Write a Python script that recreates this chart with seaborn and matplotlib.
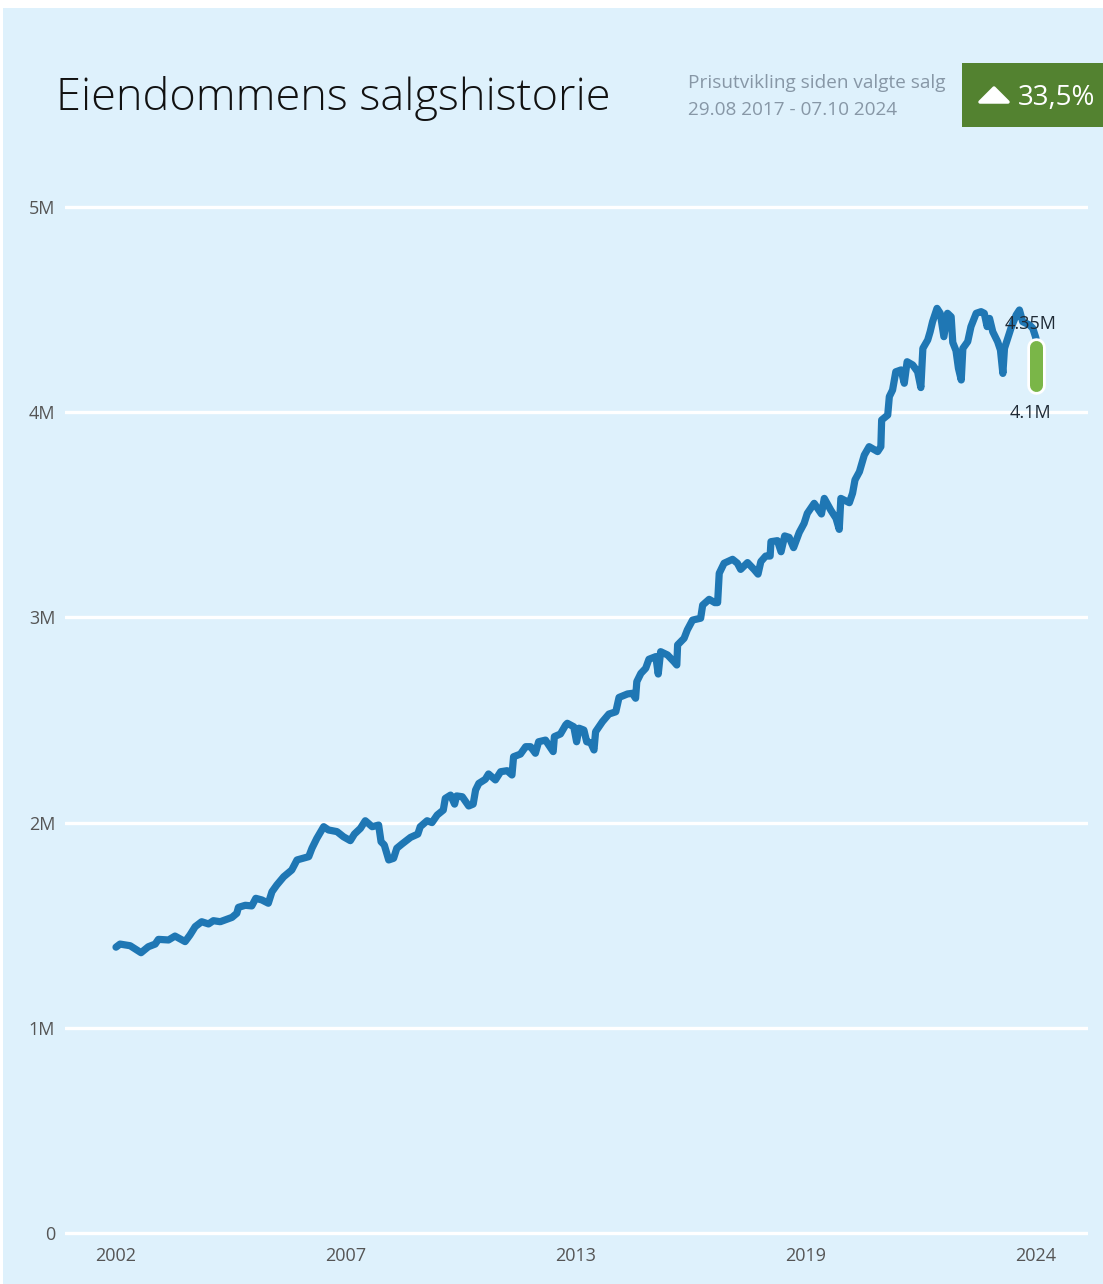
import numpy as np
import pandas as pd
import matplotlib
matplotlib.use("Agg")
import matplotlib.pyplot as plt
import matplotlib.patheffects as pe
from matplotlib.patches import Rectangle, Polygon
import seaborn as sns

# Price index for the property (decimal year, price in millions NOK)
years = [
    2002.00, 2002.10, 2002.35, 2002.62, 2002.80, 2002.97, 2003.05, 2003.30, 2003.46, 2003.71,
    2003.83, 2003.96, 2004.12, 2004.29, 2004.41, 2004.58, 2004.87, 2004.99, 2005.03, 2005.20,
    2005.36, 2005.46, 2005.61, 2005.77, 2005.86, 2005.98, 2006.15, 2006.35, 2006.48, 2006.77,
    2006.85, 2006.97, 2007.14, 2007.26, 2007.47, 2007.63, 2007.80, 2007.90, 2008.05, 2008.17,
    2008.34, 2008.50, 2008.56, 2008.64, 2008.75, 2008.87, 2008.95, 2009.08, 2009.29, 2009.47,
    2009.53, 2009.70, 2009.82, 2009.95, 2010.10, 2010.15, 2010.28, 2010.38, 2010.43, 2010.57,
    2010.73, 2010.84, 2010.90, 2010.98, 2011.14, 2011.22, 2011.39, 2011.52, 2011.68, 2011.80,
    2011.84, 2012.01, 2012.14, 2012.26, 2012.38, 2012.46, 2012.63, 2012.71, 2012.82, 2012.85,
    2013.00, 2013.13, 2013.17, 2013.33, 2013.40, 2013.46, 2013.58, 2013.65, 2013.75, 2013.83,
    2013.87, 2014.04, 2014.20, 2014.37, 2014.45, 2014.66, 2014.78, 2014.86, 2014.89, 2014.99,
    2015.11, 2015.19, 2015.36, 2015.42, 2015.48, 2015.65, 2015.81, 2015.88, 2015.90, 2016.06,
    2016.14, 2016.27, 2016.47, 2016.52, 2016.68, 2016.82, 2016.89, 2016.93, 2017.05, 2017.26,
    2017.38, 2017.46, 2017.63, 2017.79, 2017.89, 2017.96, 2018.08, 2018.19, 2018.21, 2018.37,
    2018.46, 2018.55, 2018.66, 2018.77, 2018.91, 2019.03, 2019.11, 2019.28, 2019.46, 2019.53,
    2019.69, 2019.82, 2019.90, 2019.94, 2020.15, 2020.23, 2020.29, 2020.40, 2020.52, 2020.64,
    2020.85, 2020.93, 2020.95, 2021.10, 2021.14, 2021.22, 2021.30, 2021.43, 2021.51, 2021.58,
    2021.72, 2021.84, 2021.92, 2021.97, 2022.09, 2022.15, 2022.21, 2022.32, 2022.40, 2022.49,
    2022.58, 2022.67, 2022.71, 2022.79, 2022.85, 2022.92, 2022.96, 2023.08, 2023.16, 2023.29,
    2023.41, 2023.49, 2023.56, 2023.62, 2023.70, 2023.82, 2023.89, 2023.95, 2023.99, 2024.07,
    2024.15, 2024.28, 2024.36, 2024.44, 2024.61, 2024.69, 2024.77,
]
prices = [
    1.393, 1.408, 1.400, 1.366, 1.395, 1.408, 1.431, 1.428, 1.447, 1.420,
    1.452, 1.493, 1.517, 1.506, 1.522, 1.517, 1.538, 1.558, 1.587, 1.597,
    1.594, 1.631, 1.623, 1.607, 1.663, 1.696, 1.736, 1.769, 1.818, 1.834,
    1.875, 1.923, 1.980, 1.964, 1.956, 1.931, 1.912, 1.944, 1.972, 2.009,
    1.980, 1.988, 1.907, 1.891, 1.818, 1.826, 1.875, 1.896, 1.928, 1.944,
    1.980, 2.009, 2.000, 2.037, 2.061, 2.118, 2.134, 2.090, 2.130, 2.126,
    2.081, 2.090, 2.159, 2.191, 2.211, 2.237, 2.208, 2.248, 2.253, 2.232,
    2.321, 2.334, 2.370, 2.370, 2.338, 2.394, 2.402, 2.378, 2.346, 2.419,
    2.432, 2.476, 2.484, 2.467, 2.394, 2.460, 2.451, 2.394, 2.389, 2.354,
    2.443, 2.492, 2.529, 2.540, 2.610, 2.627, 2.630, 2.606, 2.687, 2.727,
    2.752, 2.796, 2.809, 2.724, 2.833, 2.817, 2.784, 2.768, 2.866, 2.898,
    2.939, 2.987, 2.996, 3.060, 3.088, 3.072, 3.072, 3.215, 3.264, 3.283,
    3.264, 3.234, 3.267, 3.234, 3.211, 3.272, 3.299, 3.299, 3.369, 3.374,
    3.320, 3.397, 3.390, 3.340, 3.414, 3.458, 3.507, 3.556, 3.504, 3.580,
    3.523, 3.483, 3.429, 3.580, 3.559, 3.605, 3.670, 3.710, 3.791, 3.832,
    3.808, 3.832, 3.962, 3.986, 4.076, 4.108, 4.197, 4.206, 4.141, 4.246,
    4.230, 4.197, 4.120, 4.311, 4.352, 4.392, 4.441, 4.506, 4.482, 4.368,
    4.482, 4.465, 4.340, 4.300, 4.214, 4.157, 4.311, 4.344, 4.417, 4.482,
    4.490, 4.482, 4.417, 4.457, 4.392, 4.344, 4.303, 4.189, 4.311, 4.360,
    4.409, 4.474, 4.498, 4.441, 4.425, 4.409, 4.360,
]

# Estimated value range today (millions)
estimate_low = 4.1
estimate_high = 4.35
estimate_labels = ["4.35M", "4.1M"]

x_tick_labels = ["2002", "2007", "2013", "2019", "2024"]
y_ticks = [0, 1, 2, 3, 4, 5]

title = "Eiendommens salgshistorie"
subtitle_lines = ["Prisutvikling siden valgte salg", "29.08 2017 - 07.10 2024"]
change_text = "33,5%"

W, H, DPI = 1103, 1284, 100
PANEL = "#def1fc"
LINE = "#1f77b4"

sns.set_theme(style="white")
plt.rcParams["font.family"] = ["Open Sans", "DejaVu Sans"]

fig = plt.figure(figsize=(W / DPI, H / DPI), dpi=DPI, facecolor="white")

# light blue card behind everything
fig.patches.append(Rectangle((3 / W, 0), 1 - 3 / W, 1 - 8 / H, transform=fig.transFigure,
                             facecolor=PANEL, edgecolor="none", zorder=-5))

# plotting area
ax_left, ax_right = 65, 1088
ax_top, ax_bottom = 190, 1240
ax = fig.add_axes([ax_left / W, 1 - ax_bottom / H, (ax_right - ax_left) / W,
                   (ax_bottom - ax_top) / H])
ax.set_zorder(1)
ax.set_facecolor("none")

px_per_m = (1233 - 207) / 5.0
ax.set_ylim(-(ax_bottom - 1233) / px_per_m, 5 + (207 - ax_top) / px_per_m)
px_per_year = 230 / ((years[-1] - years[0]) / 4)
ax.set_xlim(years[0] - (116 - ax_left) / px_per_year, years[0] + (ax_right - 116) / px_per_year)

df = pd.DataFrame({"year": years, "price": prices})
sns.lineplot(data=df, x="year", y="price", ax=ax, color=LINE, linewidth=5.2,
             estimator=None, sort=False, zorder=3,
             solid_capstyle="round", solid_joinstyle="round")

# grid
for v in y_ticks:
    ax.axhline(v, color="white", linewidth=2.4, zorder=1)

ax.set_yticks(y_ticks)
ax.set_yticklabels(["0" if v == 0 else f"{v}M" for v in y_ticks])
ax.set_xticks(np.linspace(years[0], years[-1], len(x_tick_labels)))
ax.set_xticklabels(x_tick_labels)
ax.tick_params(axis="y", length=0, pad=7, labelsize=13, labelcolor="#555555")
ax.tick_params(axis="x", length=0, pad=5, labelsize=13, labelcolor="#555555")
ax.set_xlabel("")
ax.set_ylabel("")
for s in ax.spines.values():
    s.set_visible(False)

# estimate range bar
bar_w_px = 13
r = (bar_w_px / 2) / px_per_m
ax.plot([years[-1], years[-1]], [estimate_low + r, estimate_high - r],
        color="#7ab648", linewidth=bar_w_px * 72 / DPI, solid_capstyle="round", zorder=5,
        path_effects=[pe.Stroke(linewidth=bar_w_px * 72 / DPI + 4, foreground="white"),
                      pe.Normal()])
ax.annotate(estimate_labels[0], (years[-1], estimate_high), xytext=(-4, 12),
            textcoords="offset points", ha="center", va="center", fontsize=13,
            color="#1f2a35", zorder=6)
ax.annotate(estimate_labels[1], (years[-1], estimate_low), xytext=(-4, -15),
            textcoords="offset points", ha="center", va="center", fontsize=13,
            color="#1f2a35", zorder=6)

# header
fig.text(56 / W, 1 - 110 / H, title, fontsize=32.5, fontweight="light", color="#111111",
         ha="left", va="baseline")
fig.text(688 / W, 1 - 88 / H, subtitle_lines[0], fontsize=13.7, color="#8797a6",
         ha="left", va="baseline")
fig.text(688 / W, 1 - 115 / H, subtitle_lines[1], fontsize=13.7, color="#8797a6",
         ha="left", va="baseline")

fig.patches.append(Rectangle((962 / W, 1 - 127 / H), (W - 962) / W, 64 / H,
                             transform=fig.transFigure, facecolor="#538230",
                             edgecolor="none", zorder=2))
tri = [(980 / W, 1 - 102 / H), (1008 / W, 1 - 102 / H), (994 / W, 1 - 88 / H)]
fig.patches.append(Polygon(tri, closed=True, transform=fig.transFigure, facecolor="white",
                           edgecolor="white", linewidth=2.5, joinstyle="round", zorder=3))
fig.text(1018 / W, 1 - 105 / H, change_text, fontsize=20, color="white",
         ha="left", va="baseline", zorder=4)

fig.savefig("out.png", dpi=DPI, facecolor="white")
